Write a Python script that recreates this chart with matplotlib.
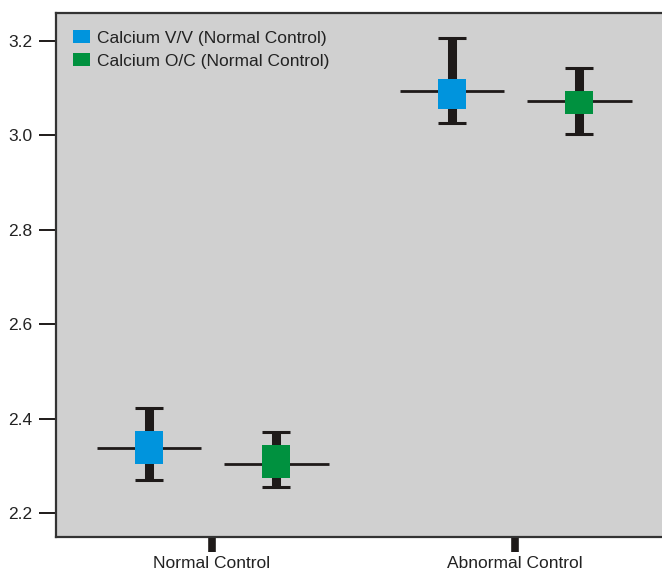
import matplotlib

matplotlib.use("Agg")
import matplotlib.pyplot as plt
import numpy as np

plt.rcParams["font.family"] = ["Liberation Sans", "DejaVu Sans"]

categories = ["Normal Control", "Abnormal Control"]
series = ["Calcium V/V (Normal Control)", "Calcium O/C (Normal Control)"]
colors = ["#0094DD", "#00913F"]

# per series: values for [Normal Control, Abnormal Control]
mean_vals = [[2.338, 3.093], [2.304, 3.072]]
box_lo = [[2.304, 3.055], [2.275, 3.046]]
box_hi = [[2.374, 3.119], [2.344, 3.094]]
whisk_lo = [[2.270, 3.026], [2.254, 3.003]]
whisk_hi = [[2.422, 3.206], [2.372, 3.142]]

yticks = [2.2, 2.4, 2.6, 2.8, 3.0, 3.2]

dark = "#1E1A19"
fig = plt.figure(figsize=(6.62, 5.73), dpi=100)
ax = fig.add_axes([0.0846, 0.0628, 0.9154, 0.9145])
ax.set_facecolor("#D0D0D0")

x = np.arange(len(categories))
offsets = [-0.208, 0.212]
box_w = 0.092
line_half = 0.173

for s in range(len(series)):
    xs = x + offsets[s]
    lo = np.array(box_lo[s])
    hi = np.array(box_hi[s])
    ax.vlines(xs, whisk_lo[s], whisk_hi[s], color=dark, lw=6.5, zorder=2)
    ax.hlines(whisk_lo[s], xs - box_w / 2, xs + box_w / 2, color=dark, lw=2.2, zorder=2)
    ax.hlines(whisk_hi[s], xs - box_w / 2, xs + box_w / 2, color=dark, lw=2.2, zorder=2)
    ax.hlines(mean_vals[s], xs - line_half, xs + line_half, color=dark, lw=2, zorder=2)
    ax.bar(xs, hi - lo, bottom=lo, width=box_w, color=colors[s], zorder=3,
           label=series[s], linewidth=0)

ax.set_xlim(-0.515, 1.485)
ax.set_ylim(2.149, 3.259)
ax.set_yticks(yticks)
ax.set_yticklabels([f"{t:.1f}" for t in yticks], fontsize=12.5, color="#222")
ax.set_xticks(x)
ax.set_xticklabels(categories, fontsize=12.5, color="#222")
ax.tick_params(axis="y", length=12, width=1.4, color=dark, pad=5)
ax.tick_params(axis="x", length=11, width=5.5, color=dark, pad=3)

for side in ["left", "bottom", "top"]:
    ax.spines[side].set_linewidth(1.6)
    ax.spines[side].set_color("#333333")
ax.spines["right"].set_visible(False)

leg = ax.legend(loc="upper left", frameon=False, fontsize=12.5,
                handlelength=0.95, handleheight=0.72, handletextpad=0.4,
                labelspacing=0.45, borderaxespad=0.6, bbox_to_anchor=(0.0, 1.0))
for t in leg.get_texts():
    t.set_color("#222")

fig.savefig("out.png", dpi=100)
